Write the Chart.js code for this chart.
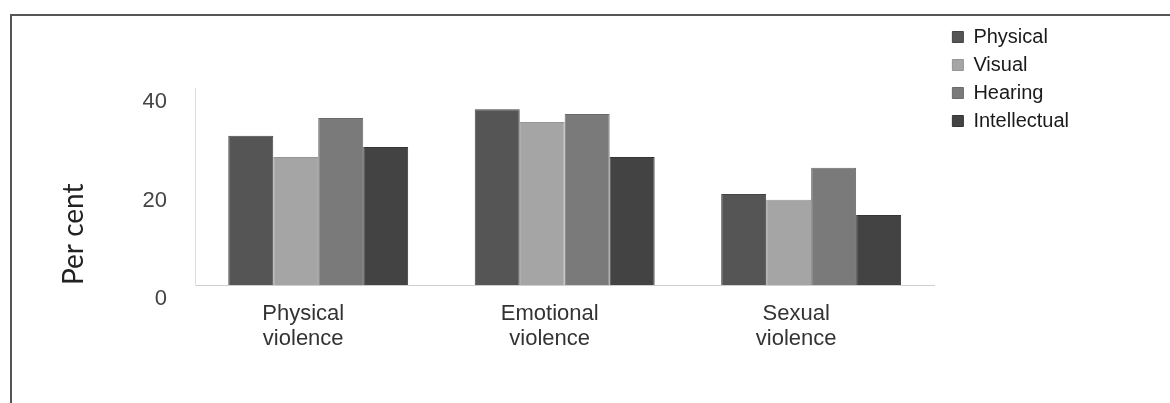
<!DOCTYPE html>
<html><head><meta charset="utf-8">
<script src="https://cdn.jsdelivr.net/npm/chart.js@4"></script>
<style>
html,body{margin:0;padding:0;background:#fff;}
#wrap{position:relative;width:1170px;height:403px;overflow:hidden;background:#fff;}
#frame{position:absolute;left:10px;top:14px;width:1200px;height:500px;border-left:2px solid #555;border-top:2px solid #555;pointer-events:none;}
canvas{position:absolute;left:0;top:0;}
</style></head><body>
<div id="wrap"><canvas id="c" width="1170" height="403"></canvas><div id="frame"></div></div>
<script>
const categories = [['Physical', 'violence'], ['Emotional', 'violence'], ['Sexual', 'violence']];
const seriesNames = ['Physical', 'Visual', 'Hearing', 'Intellectual'];
const physical = [30.3, 35.7, 18.5];
const visual = [26.0, 33.1, 17.3];
const hearing = [33.9, 34.7, 23.8];
const intellectual = [28.0, 26.0, 14.2];
const yMin = 0, yMax = 40, yStep = 20;
const yTitle = 'Per cent';

const fills = ['#555555', '#a5a5a5', '#7a7a7a', '#434343'];
const edges = ['#444444', '#959595', '#6a6a6a', '#353535'];
const seriesValues = [physical, visual, hearing, intellectual];

const datasets = seriesNames.map((name, i) => ({
  label: name,
  data: seriesValues[i],
  backgroundColor: fills[i],
  borderColor: edges[i],
  borderWidth: 1,
  barPercentage: 1.0,
  categoryPercentage: 0.73
}));

new Chart(document.getElementById('c'), {
  type: 'bar',
  data: { labels: categories, datasets },
  options: {
    responsive: false,
    animation: false,
    layout: { padding: { left: 40, right: 91, top: 19, bottom: 0 } },
    plugins: {
      tooltip: { enabled: false },
      title: { display: true, text: '', font: { size: 10 }, padding: { top: 0, bottom: 57 } },
      legend: {
        position: 'right',
        align: 'start',
        labels: {
          boxWidth: 11, boxHeight: 11, padding: 8,
          color: '#1a1a1a',
          font: { family: 'Liberation Sans, Arial, sans-serif', size: 20 }
        }
      }
    },
    scales: {
      x: {
        grid: { display: false, drawTicks: false },
        border: { display: true, color: '#cfcfcf', width: 1 },
        ticks: {
          color: '#333', padding: 16, labelOffset: -15,
          font: { family: 'Liberation Sans, Arial, sans-serif', size: 22, lineHeight: 1.15 }
        },
        afterFit: s => { s.height = 118; }
      },
      y: {
        min: yMin, max: yMax,
        grid: { display: false, drawTicks: false },
        border: { display: true, color: '#dedede', width: 1 },
        ticks: {
          stepSize: yStep, color: '#444', padding: 28, labelOffset: 14,
          font: { family: 'Liberation Sans, Arial, sans-serif', size: 22 }
        },
        title: {
          display: true, text: yTitle, align: 'start', color: '#222',
          font: { family: 'Lato, Open Sans, sans-serif', size: 28 },
          padding: { top: 17, bottom: 0 }
        },
        afterFit: s => { s.width = 155; }
      },
      gap: {
        type: 'linear', position: 'right', display: true,
        grid: { display: false, drawTicks: false },
        border: { display: false },
        ticks: { display: false },
        afterFit: s => { s.width = 10; }
      }
    }
  }
});
</script>
</body></html>
